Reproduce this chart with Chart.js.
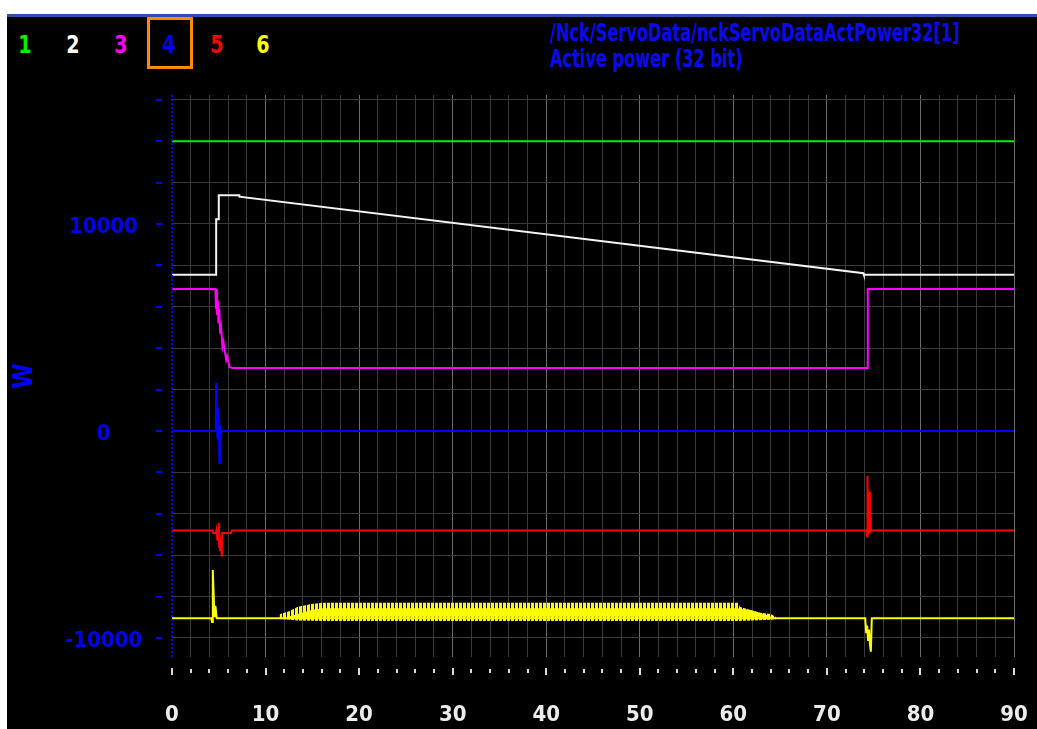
<!DOCTYPE html>
<html>
<head>
<meta charset="utf-8">
<title>Active power</title>
<script src="https://cdn.jsdelivr.net/npm/chart.js@4.4.1/dist/chart.umd.min.js"></script>
<style>
  html, body { margin: 0; padding: 0; background: #fff; }
  body { width: 1037px; height: 729px; position: relative; overflow: hidden; }
  #bar { position: absolute; left: 7px; top: 14px; width: 1030px; height: 3px; background: #2f4fa8; }
  #screen { position: absolute; left: 7px; top: 17px; width: 1030px; height: 712px; background: #000; }
  #screen canvas { position: absolute; left: 0; top: 0; }
  .txt { position: absolute; font-family: "DejaVu Sans Condensed", "DejaVu Sans", sans-serif; font-weight: bold; white-space: nowrap; line-height: 1; }
  .num { font-size: 25px; top: 15px; transform: translateX(-50%) scaleX(0.85); }
  #sel { position: absolute; left: 140px; top: 0px; width: 40px; height: 46px; border: 3px solid #ff8c00; }
  #title { left: 543px; top: 3px; font-size: 24px; color: #0a0af0; line-height: 26px; transform: scaleX(0.75); transform-origin: 0 0; }
</style>
</head>
<body>
<div id="bar"></div>
<div id="screen">
  <div id="sel"></div>
  <div class="txt num" style="left:18px;color:#00f000">1</div>
  <div class="txt num" style="left:66px;color:#ffffff">2</div>
  <div class="txt num" style="left:114px;color:#ff00ff">3</div>
  <div class="txt num" style="left:162px;color:#0000ff">4</div>
  <div class="txt num" style="left:210px;color:#ff0000">5</div>
  <div class="txt num" style="left:256px;color:#ffff00">6</div>
  <div class="txt" id="title">/Nck/ServoData/nckServoDataActPower32[1]<br>Active power (32 bit)</div>
  <canvas id="trace" width="1030" height="712"></canvas>
</div>
<script>
// time axis (s) and power axis (W)
const xMin = 0, xMax = 90;
const yMin = -10920, yMax = 16230;
const yTicks = [-10000, -8000, -6000, -4000, -2000, 0, 2000, 4000, 6000, 8000, 10000, 12000, 14000, 16000];

// trace 1 - green
const greenT = [0, 90];
const greenV = [14000, 14000];

// trace 2 - white
const whiteT = [0, 4.72, 4.72, 5.0, 5.0, 7.2, 7.2, 73.9, 73.95, 90];
const whiteV = [7550, 7550, 10230, 10230, 11390, 11390, 11320, 7620, 7550, 7550];

// trace 3 - magenta
const magentaT = [0, 4.64, 4.7, 4.75, 4.8, 4.9, 4.96, 5.05, 5.15, 5.25, 5.39, 5.5, 5.79, 5.9, 6.14, 6.46, 74.37, 74.37, 90];
const magentaV = [6860, 6860, 5900, 6860, 5600, 6300, 5200, 5900, 4700, 5000, 4060, 4300, 3430, 3600, 3090, 3040, 3040, 6860, 6860];

// trace 4 - blue
const blueT = [0, 4.7, 4.72, 4.75, 4.8, 4.85, 4.9, 4.95, 5.0, 5.07, 5.12, 5.2, 5.3, 90];
const blueV = [0, 0, 2320, 900, 1400, -300, 1100, -400, 600, -1550, 300, -200, 0, 0];

// trace 5 - red
const redT = [0, 4.35, 4.4, 4.7, 4.75, 4.85, 4.95, 5.0, 5.05, 5.1, 5.15, 5.2, 5.32, 5.36, 6.3, 6.4,
              74.2, 74.3, 74.34, 74.4, 74.55, 74.6, 74.65, 74.7, 90];
const redV = [-4810, -4810, -4930, -4930, -4810, -5300, -4800, -4440, -5600, -5000, -5750, -5200, -6070, -4930, -4930, -4810,
              -4810, -5100, -2170, -5000, -2930, -4900, -4200, -4810, -4810];

// trace 6 - yellow
const yellowT = [0, 4.18, 4.29, 4.36, 4.54, 4.64, 4.78, 74.1, 74.2, 74.3, 74.4, 74.5, 74.6, 74.7, 74.8, 90];
const yellowV = [-9050, -9050, -9230, -6715, -9000, -8450, -9050, -9050, -9770, -9400, -10100, -9600, -10300, -10660, -9050, -9050];

// envelope of the yellow oscillation
const bandHiT = [11.5, 12.6, 13.45, 14.9, 16.1, 60.5, 60.7, 61.8, 62.9, 64.0, 64.6];
const bandHiV = [-8860, -8700, -8490, -8360, -8300, -8300, -8490, -8650, -8780, -8840, -9000];
const bandLoT = [11.5, 12.6, 13.45, 16.1, 60.5, 62.9, 64.6];
const bandLoV = [-9080, -9120, -9160, -9180, -9180, -9140, -9100];
const coreHiT = [12.6, 14.9, 16.1, 60.5, 61.8, 62.9, 64.0];
const coreHiV = [-8950, -8650, -8570, -8570, -8650, -8800, -8950];
const coreLoT = [12.6, 16.1, 60.5, 64.0];
const coreLoV = [-9050, -8970, -8970, -9050];

const pts = (t, v) => t.map((x, i) => ({ x: x, y: v[i] }));

// vertical stripes for the ripple band
const stripe = document.createElement('canvas');
stripe.width = 4; stripe.height = 1;
const sctx = stripe.getContext('2d');
sctx.fillStyle = '#ffff00';
sctx.fillRect(0, 0, 3, 1);
const ctx = document.getElementById('trace').getContext('2d');
const stripePattern = ctx.createPattern(stripe, 'repeat');

const trace = (data, color) => ({
  data: data, borderColor: color, borderWidth: 2, fill: false, pointRadius: 0
});

// dotted y axis line and tick marks set off from the plot frame
const tickMarks = {
  id: 'tickMarks',
  afterDraw(chart) {
    const { ctx, chartArea, scales: { x, y } } = chart;
    ctx.save();
    ctx.lineWidth = 2;
    ctx.strokeStyle = '#0000f0';
    ctx.setLineDash([2, 2]);
    ctx.beginPath();
    ctx.moveTo(chartArea.left, chartArea.top);
    ctx.lineTo(chartArea.left, chartArea.bottom);
    ctx.stroke();
    ctx.setLineDash([]);
    y.ticks.forEach(t => {
      const py = Math.round(y.getPixelForValue(t.value));
      ctx.beginPath();
      ctx.moveTo(chartArea.left - 16, py);
      ctx.lineTo(chartArea.left - 10, py);
      ctx.stroke();
    });
    ctx.strokeStyle = '#d8d8d8';
    x.ticks.forEach(t => {
      const px = Math.round(x.getPixelForValue(t.value));
      const major = t.value % 10 === 0;
      ctx.beginPath();
      ctx.moveTo(px, chartArea.bottom + (major ? 11 : 12));
      ctx.lineTo(px, chartArea.bottom + (major ? 18 : 16));
      ctx.stroke();
    });
    ctx.restore();
  }
};

const labelFont = { family: '"DejaVu Sans Condensed", "DejaVu Sans", sans-serif', size: 22, weight: 'bold' };

new Chart(ctx, {
  type: 'line',
  data: {
    datasets: [
      trace(pts(greenT, greenV), '#00f000'),
      trace(pts(whiteT, whiteV), '#f4f4f4'),
      trace(pts(magentaT, magentaV), '#ff00ff'),
      trace(pts(blueT, blueV), '#0000ff'),
      trace(pts(redT, redV), '#ff0000'),
      trace(pts(yellowT, yellowV), '#ffff00'),
      { data: pts(bandHiT, bandHiV), borderWidth: 0, pointRadius: 0, fill: '+1', backgroundColor: stripePattern },
      { data: pts(bandLoT, bandLoV), borderWidth: 0, pointRadius: 0, fill: false },
      { data: pts(coreHiT, coreHiV), borderWidth: 0, pointRadius: 0, fill: '+1', backgroundColor: '#ffff00' },
      { data: pts(coreLoT, coreLoV), borderWidth: 0, pointRadius: 0, fill: false }
    ]
  },
  options: {
    responsive: false,
    animation: false,
    devicePixelRatio: 1,
    layout: { padding: { top: 78, right: 23, left: 0, bottom: 0 } },
    elements: { line: { tension: 0 } },
    plugins: { legend: { display: false }, tooltip: { enabled: false } },
    scales: {
      x: {
        type: 'linear',
        min: xMin, max: xMax,
        afterFit: s => { s.height = 72; s.paddingLeft = 0; s.paddingRight = 0; },
        border: { display: false },
        grid: {
          drawTicks: false,
          color: c => c.tick.value === 0 ? 'rgba(0,0,0,0)' : (c.tick.value % 10 === 0 ? '#6c6c6c' : '#3a3a3a')
        },
        ticks: {
          stepSize: 2, autoSkip: false, maxRotation: 0, padding: 45,
          color: '#ececec', font: labelFont,
          callback: v => v % 10 === 0 ? String(v) : ''
        }
      },
      y: {
        min: yMin, max: yMax,
        afterFit: s => { s.width = 165; },
        afterBuildTicks: s => { s.ticks = yTicks.map(v => ({ value: v })); },
        border: { display: false },
        grid: { drawTicks: false, color: '#3a3a3a' },
        title: {
          display: true, text: 'W', color: '#0000ff',
          font: { family: labelFont.family, size: 26, weight: 'bold' },
          padding: { top: 3, bottom: 0 }
        },
        ticks: {
          autoSkip: false, crossAlign: 'center', padding: 30, labelOffset: 3,
          color: '#0000f0', font: labelFont,
          callback: v => v % 10000 === 0 ? String(v) : ''
        }
      }
    }
  },
  plugins: [tickMarks]
});
</script>
</body>
</html>
